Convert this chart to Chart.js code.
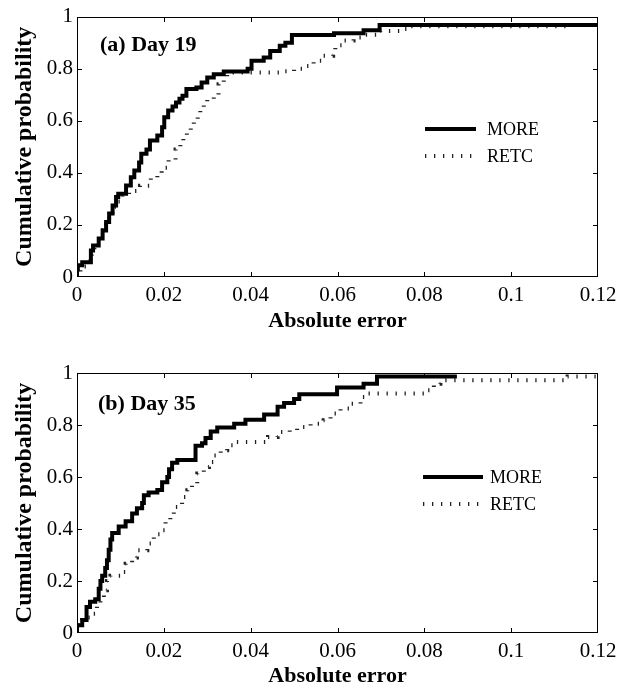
<!DOCTYPE html>
<html><head><meta charset="utf-8">
<script src="https://cdn.jsdelivr.net/npm/chart.js@4/dist/chart.umd.min.js"></script>
<style>
html,body{margin:0;padding:0;background:#fff;}
#wrap{position:relative;width:624px;height:687px;overflow:hidden;background:#fff;}
canvas{position:absolute;left:0;}
</style></head><body>
<div id="wrap">
<canvas id="c1" width="624" height="344" style="top:0px"></canvas>
<canvas id="c2" width="624" height="343" style="top:344px"></canvas>
</div>
<script>
// ---- data ----
const xTicks = [0, 0.02, 0.04, 0.06, 0.08, 0.1, 0.12];
const xTickLabels = ['0', '0.02', '0.04', '0.06', '0.08', '0.1', '0.12'];
const yTicks = [0, 0.2, 0.4, 0.6, 0.8, 1];
const yTickLabels = ['0', '0.2', '0.4', '0.6', '0.8', '1'];
const seriesNames = ['MORE', 'RETC'];
const panelLabels = ['(a) Day 19', '(b) Day 35'];
const xAxisTitle = 'Absolute error';
const yAxisTitle = 'Cumulative probability';

const day19MoreX = [0, 0, 0.0002, 0.0012, 0.0032, 0.0037, 0.005, 0.0059, 0.0067, 0.0074, 0.0082, 0.009, 0.0095, 0.0113, 0.0124, 0.0132, 0.0143, 0.0148, 0.016, 0.0168, 0.0185, 0.0196, 0.0201, 0.021, 0.022, 0.0228, 0.0236, 0.0243, 0.0252, 0.0275, 0.0287, 0.030, 0.0315, 0.0338, 0.0393, 0.0402, 0.043, 0.0445, 0.0467, 0.048, 0.0495, 0.0592, 0.066, 0.0697, 0.12];
const day19MoreY = [0, 0.03, 0.045, 0.057, 0.102, 0.121, 0.148, 0.179, 0.211, 0.244, 0.275, 0.307, 0.32, 0.351, 0.383, 0.409, 0.44, 0.473, 0.49, 0.524, 0.543, 0.575, 0.613, 0.639, 0.655, 0.670, 0.685, 0.696, 0.722, 0.728, 0.747, 0.766, 0.779, 0.789, 0.80, 0.83, 0.843, 0.868, 0.888, 0.90, 0.929, 0.936, 0.948, 0.968, 0.968];

const day19RetcX = [0, 0, 0.0008, 0.0025, 0.0034, 0.004, 0.005, 0.006, 0.0067, 0.0074, 0.0082, 0.009, 0.0105, 0.012, 0.0145, 0.0168, 0.017, 0.0185, 0.0195, 0.0211, 0.0227, 0.0238, 0.0245, 0.0253, 0.0262, 0.0269, 0.0278, 0.0284, 0.0292, 0.030, 0.0315, 0.0326, 0.0338, 0.0346, 0.0478, 0.050, 0.052, 0.0545, 0.0565, 0.059, 0.0595, 0.0614, 0.0637, 0.066, 0.0699, 0.0745, 0.076, 0.113, 0.12];
const day19RetcY = [0, 0.02, 0.04, 0.06, 0.1, 0.13, 0.15, 0.18, 0.2, 0.24, 0.27, 0.29, 0.313, 0.33, 0.35, 0.36, 0.38, 0.40, 0.42, 0.45, 0.49, 0.51, 0.53, 0.56, 0.58, 0.60, 0.62, 0.64, 0.66, 0.68, 0.70, 0.74, 0.77, 0.785, 0.79, 0.80, 0.81, 0.83, 0.85, 0.87, 0.89, 0.908, 0.92, 0.93, 0.945, 0.952, 0.963, 0.968, 0.968];

const day35MoreX = [0, 0, 0.0012, 0.0022, 0.003, 0.0042, 0.005, 0.0054, 0.0058, 0.0065, 0.0069, 0.0073, 0.0077, 0.0081, 0.0096, 0.0112, 0.0127, 0.0138, 0.015, 0.0154, 0.0165, 0.0185, 0.0196, 0.0208, 0.0212, 0.0219, 0.0231, 0.0273, 0.0288, 0.0296, 0.0308, 0.0323, 0.0362, 0.0388, 0.0431, 0.0462, 0.0477, 0.050, 0.0512, 0.0599, 0.066, 0.0691, 0.0875];
const day35MoreY = [0, 0.03, 0.05, 0.10, 0.12, 0.13, 0.17, 0.20, 0.22, 0.25, 0.28, 0.32, 0.36, 0.385, 0.41, 0.43, 0.46, 0.48, 0.50, 0.53, 0.54, 0.55, 0.58, 0.60, 0.63, 0.655, 0.665, 0.72, 0.73, 0.75, 0.775, 0.79, 0.805, 0.82, 0.84, 0.87, 0.885, 0.90, 0.918, 0.944, 0.959, 0.987, 0.987];

const day35RetcX = [0, 0, 0.0012, 0.0025, 0.0038, 0.0042, 0.0046, 0.0054, 0.0062, 0.0069, 0.0077, 0.010, 0.0112, 0.0127, 0.0138, 0.0162, 0.0177, 0.0192, 0.0204, 0.0215, 0.0223, 0.0242, 0.0254, 0.0265, 0.0277, 0.0292, 0.0304, 0.0315, 0.0331, 0.0346, 0.0362, 0.044, 0.0462, 0.049, 0.0507, 0.0538, 0.0568, 0.0584, 0.0607, 0.063, 0.0653, 0.0668, 0.0799, 0.0822, 0.0837, 0.113, 0.12];
const day35RetcY = [0, 0.03, 0.05, 0.06, 0.074, 0.08, 0.106, 0.132, 0.164, 0.2, 0.22, 0.235, 0.266, 0.29, 0.318, 0.344, 0.38, 0.395, 0.427, 0.446, 0.485, 0.523, 0.549, 0.574, 0.613, 0.638, 0.658, 0.683, 0.703, 0.722, 0.735, 0.754, 0.773, 0.78, 0.792, 0.805, 0.818, 0.844, 0.863, 0.882, 0.908, 0.921, 0.934, 0.959, 0.972, 0.987, 0.987];

// ---- rendering ----
const SERIF = '"Liberation Serif", "Times New Roman", Times, serif';
function pts(xs, ys) { return xs.map((x, i) => ({ x: x, y: ys[i] })); }
function labelFor(list, labels, v) { return labels[list.findIndex(t => Math.abs(t - v) < 1e-9)]; }

const framePlugin = {
  id: 'frame',
  afterDatasetsDraw(chart, args, o) {
    const ctx = chart.ctx, a = chart.chartArea, sx = chart.scales.x, sy = chart.scales.y;
    const L = Math.round(a.left), R = Math.round(a.right), T = Math.round(a.top), B = Math.round(a.bottom);
    ctx.save();
    ctx.strokeStyle = '#000';
    ctx.lineWidth = 1;
    ctx.strokeRect(L + 0.5, T + 0.5, R - L - 1, B - T - 1);
    const tl = 5;
    const clampX = p => Math.min(Math.max(p, L + 0.5), R - 0.5);
    const clampY = p => Math.min(Math.max(p, T + 0.5), B - 0.5);
    ctx.beginPath();
    xTicks.forEach(v => {
      const p = clampX(Math.round(sx.getPixelForValue(v)) + 0.5);
      ctx.moveTo(p, B); ctx.lineTo(p, B - tl);
      ctx.moveTo(p, T); ctx.lineTo(p, T + tl);
    });
    yTicks.forEach(v => {
      const p = clampY(Math.round(sy.getPixelForValue(v)) + 0.5);
      ctx.moveTo(L, p); ctx.lineTo(L + tl, p);
      ctx.moveTo(R, p); ctx.lineTo(R - tl, p);
    });
    ctx.stroke();
    // panel label
    ctx.fillStyle = '#000';
    ctx.font = 'bold 22px ' + SERIF;
    ctx.textBaseline = 'middle';
    ctx.textAlign = 'left';
    ctx.fillText(o.panel, o.panelX, o.panelY);
    // legend
    ctx.font = '18px ' + SERIF;
    chart.data.datasets.forEach((ds, i) => {
      const y = o.legY + i * o.legGap;
      ctx.save();
      ctx.strokeStyle = ds.borderColor;
      ctx.lineWidth = ds.borderWidth;
      ctx.setLineDash(ds.borderDash || []);
      ctx.lineCap = 'butt';
      ctx.beginPath();
      ctx.moveTo(o.legX0, y); ctx.lineTo(o.legX1, y);
      ctx.stroke();
      ctx.restore();
      ctx.fillStyle = '#000';
      ctx.fillText(ds.label, o.legTX, y + 1);
    });
    ctx.restore();
  }
};

function makeChart(id, moreX, moreY, retcX, retcY, cfg) {
  return new Chart(document.getElementById(id), {
    type: 'line',
    data: {
      datasets: [
        { label: seriesNames[0], data: pts(moreX, moreY), borderColor: '#000', borderWidth: 4,
          stepped: 'before', pointRadius: 0, fill: false, borderJoinStyle: 'miter', tension: 0 },
        { label: seriesNames[1], data: pts(retcX, retcY), borderColor: '#222', borderWidth: 4,
          borderDash: [1.3, 7.7], borderCapStyle: 'butt', stepped: 'before', pointRadius: 0, fill: false, tension: 0 }
      ]
    },
    options: {
      responsive: false, animation: false, devicePixelRatio: 1,
      layout: { padding: { left: 0, right: 26, top: cfg.top, bottom: 0 } },
      plugins: {
        legend: { display: false }, tooltip: { enabled: false }, title: { display: false },
        frame: cfg.frame
      },
      scales: {
        x: {
          type: 'linear', min: 0, max: 0.12,
          afterBuildTicks: s => { s.ticks = xTicks.map(v => ({ value: v })); },
          ticks: { callback: v => labelFor(xTicks, xTickLabels, v),
                   font: { family: SERIF, size: 21 }, color: '#000', padding: 6, maxRotation: 0, autoSkip: false },
          grid: { display: false, drawTicks: false }, border: { display: false },
          title: { display: true, text: xAxisTitle, color: '#000',
                   font: { family: SERIF, size: 22, weight: 'bold', lineHeight: 1 }, padding: { top: 0, bottom: cfg.xTitlePad } },
          afterFit: s => { s.height = cfg.xh; }
        },
        y: {
          type: 'linear', min: 0, max: 1,
          afterBuildTicks: s => { s.ticks = yTicks.map(v => ({ value: v })); },
          ticks: { callback: v => labelFor(yTicks, yTickLabels, v),
                   font: { family: SERIF, size: 21 }, color: '#000', padding: 4 },
          grid: { display: false, drawTicks: false }, border: { display: false },
          title: { display: true, text: yAxisTitle, color: '#000',
                   font: { family: SERIF, size: 24, weight: 'bold', lineHeight: 1.2 }, padding: { top: 10, bottom: 0 } },
          afterFit: s => { s.width = 77; }
        }
      }
    },
    plugins: [framePlugin]
  });
}

makeChart('c1', day19MoreX, day19MoreY, day19RetcX, day19RetcY, {
  top: 16, xh: 67, xTitlePad: 12,
  frame: { panel: panelLabels[0], panelX: 100, panelY: 45, legX0: 425, legX1: 476, legTX: 487, legY: 129, legGap: 27 }
});
makeChart('c2', day35MoreX, day35MoreY, day35RetcX, day35RetcY, {
  top: 29, xh: 54, xTitlePad: 0,
  frame: { panel: panelLabels[1], panelX: 98, panelY: 60, legX0: 423, legX1: 483, legTX: 490, legY: 133, legGap: 27 }
});
</script>
</body></html>
